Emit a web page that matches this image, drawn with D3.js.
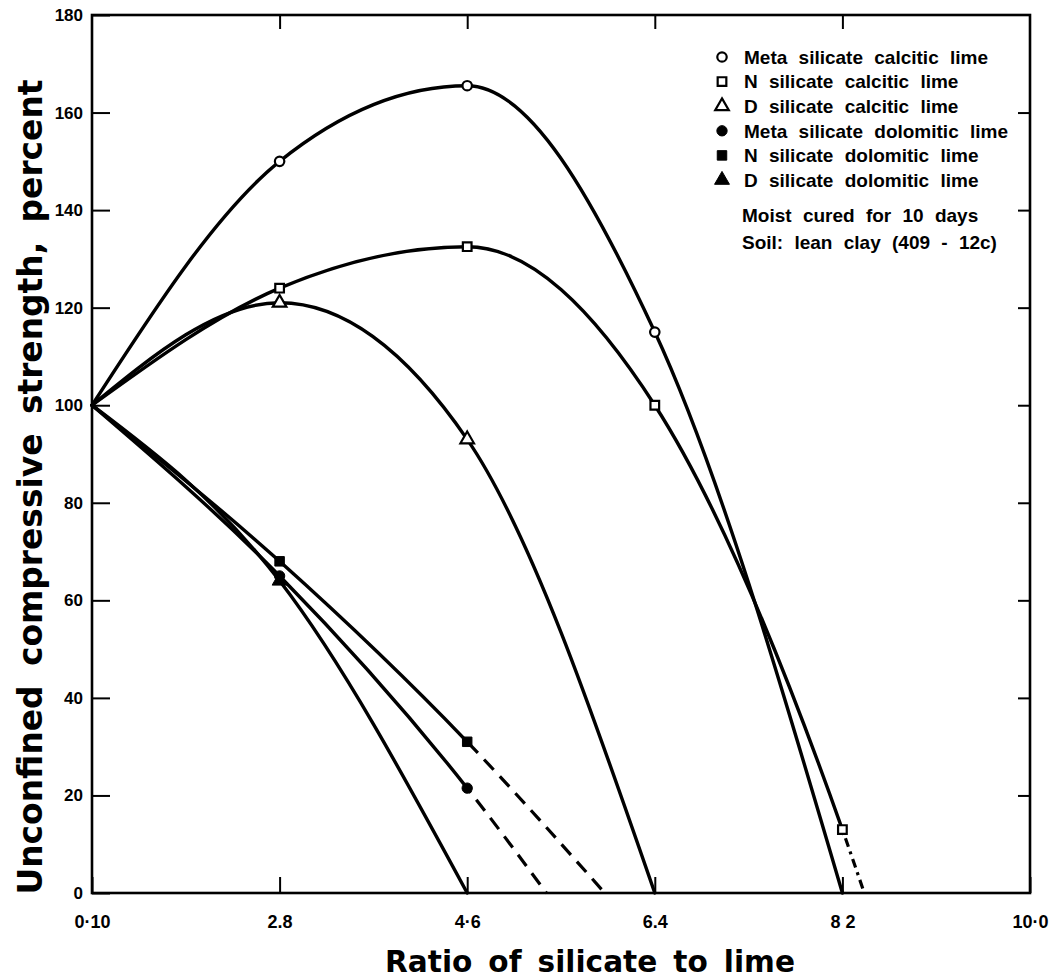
<!DOCTYPE html>
<html>
<head>
<meta charset="utf-8">
<script src="https://cdn.jsdelivr.net/npm/d3@7"></script>
<style>
  body { margin: 0; background: #fff; }
  svg { display: block; }
  text { font-family: "Liberation Sans", Arial, sans-serif; fill: #000; }
</style>
</head>
<body>
<div id="chart"></div>
<script>
// ratio values at the tick marks and the labels printed under them
const ratios = [0.1, 2.8, 4.6, 6.4, 8.2, 10.0];
const ratioLabels = ["0·10", "2.8", "4·6", "6.4", "8 2", "10·0"];
const strengthTicks = [0, 20, 40, 60, 80, 100, 120, 140, 160, 180];

// strength (percent), one array per curve
const metaCalcitic = [[0.1, 100], [2.8, 150], [4.6, 165.5], [6.4, 115], [8.2, 0]];
const nCalcitic = [[0.1, 100], [2.8, 124], [4.6, 132.5], [6.4, 100], [8.2, 13], [8.41, 0]];
const dCalcitic = [[0.1, 100], [2.8, 121], [4.6, 93], [6.4, 0]];
const metaDolomitic = [[0.1, 100], [2.8, 65], [4.6, 21.5], [5.36, 0]];
const nDolomitic = [[0.1, 100], [2.8, 68], [4.6, 31], [5.92, 0]];
const dDolomitic = [[0.1, 100], [2.8, 64], [4.6, 0]];

// name, points, marker symbol, filled?, ratio where the dashed part starts, marker positions
const series = [
  { name: "Meta silicate calcitic lime", pts: metaCalcitic, sym: "circle", fill: false, dashFrom: null, marks: [2.8, 4.6, 6.4] },
  { name: "N silicate calcitic lime", pts: nCalcitic, sym: "square", fill: false, dashFrom: 8.2, marks: [2.8, 4.6, 6.4, 8.2] },
  { name: "D silicate calcitic lime", pts: dCalcitic, sym: "triangle", fill: false, dashFrom: null, marks: [2.8, 4.6] },
  { name: "Meta silicate dolomitic lime", pts: metaDolomitic, sym: "circle", fill: true, dashFrom: 4.6, marks: [2.8, 4.6] },
  { name: "N silicate dolomitic lime", pts: nDolomitic, sym: "square", fill: true, dashFrom: 4.6, marks: [2.8, 4.6] },
  { name: "D silicate dolomitic lime", pts: dDolomitic, sym: "triangle", fill: true, dashFrom: null, marks: [2.8] }
];
const notes = ["Moist cured for 10 days", "Soil:  lean clay (409 - 12c)"];

const width = 1059, height = 980;
const plotLeft = 92, plotRight = 1030, plotTop = 15, plotBottom = 893;

const svg = d3.select("#chart").append("svg")
  .attr("width", width)
  .attr("height", height);

// the printed ratios are evenly spaced, so map them piecewise
const x = d3.scaleLinear()
  .domain(ratios)
  .range(ratios.map((d, i) => plotLeft + i * (plotRight - plotLeft) / (ratios.length - 1)));
const y = d3.scaleLinear().domain([0, 180]).range([plotBottom, plotTop]);

// axes with inward ticks
svg.append("g")
  .attr("transform", `translate(${plotLeft},0)`)
  .call(d3.axisLeft(y).tickValues(strengthTicks).tickSize(-18).tickPadding(9))
  .call(g => g.select(".domain").remove())
  .call(g => g.selectAll("text").style("font-size", "17px").style("font-weight", "bold"));

svg.append("g")
  .attr("transform", `translate(${plotRight},0)`)
  .call(d3.axisRight(y).tickValues(strengthTicks.slice(1, -1)).tickSize(-12).tickFormat(""))
  .call(g => g.select(".domain").remove());

svg.append("g")
  .attr("transform", `translate(0,${plotBottom})`)
  .call(d3.axisBottom(x).tickValues(ratios).tickSize(-16).tickPadding(22)
    .tickFormat((d, i) => ratioLabels[i]))
  .call(g => g.select(".domain").remove())
  .call(g => g.selectAll("text").style("font-size", "18px").style("font-weight", "bold"));

svg.append("g")
  .attr("transform", `translate(0,${plotTop})`)
  .call(d3.axisTop(x).tickValues(ratios.slice(1, -1)).tickSize(-14).tickFormat(""))
  .call(g => g.select(".domain").remove());

svg.selectAll(".tick line").attr("stroke", "#000").attr("stroke-width", 2);

svg.append("rect")
  .attr("x", plotLeft).attr("y", plotTop)
  .attr("width", plotRight - plotLeft).attr("height", plotBottom - plotTop)
  .attr("fill", "none").attr("stroke", "#000").attr("stroke-width", 2.6);

// curves: one smooth path per series, split into solid and dashed parts by clipping
const line = d3.line()
  .x(d => x(d[0]))
  .y(d => y(d[1]))
  .curve(d3.curveMonotoneX);

const defs = svg.append("defs");
series.forEach((s, i) => {
  const split = s.dashFrom == null ? plotRight + 10 : x(s.dashFrom);
  defs.append("clipPath").attr("id", "solid" + i)
    .append("rect").attr("x", 0).attr("y", 0).attr("width", split).attr("height", height);
  defs.append("clipPath").attr("id", "dash" + i)
    .append("rect").attr("x", split).attr("y", 0).attr("width", width).attr("height", height);

  svg.append("path")
    .attr("d", line(s.pts))
    .attr("clip-path", `url(#solid${i})`)
    .attr("fill", "none").attr("stroke", "#000").attr("stroke-width", 3.4)
    .attr("stroke-linejoin", "round").attr("stroke-linecap", "round");

  if (s.dashFrom != null) {
    svg.append("path")
      .attr("d", line(s.pts))
      .attr("clip-path", `url(#dash${i})`)
      .attr("fill", "none").attr("stroke", "#000").attr("stroke-width", 3.2)
      .attr("stroke-dasharray", s.sym === "square" && !s.fill ? "9,5,3,5" : "14,9");
  }
});

const symbols = { circle: d3.symbolCircle, square: d3.symbolSquare, triangle: d3.symbolTriangle };
const symSize = { circle: 70, square: 75, triangle: 80 };

function marker(g, s) {
  g.append("path")
    .attr("d", d3.symbol(symbols[s.sym], s.fill ? symSize[s.sym] * 1.2 : symSize[s.sym])())
    .attr("fill", s.fill ? "#000" : "#fff")
    .attr("stroke", "#000")
    .attr("stroke-width", s.fill ? 1 : 2.2);
}

series.forEach(s => {
  const pts = s.pts.filter(p => s.marks.includes(p[0]));
  pts.forEach(p => {
    const g = svg.append("g").attr("transform", `translate(${x(p[0])},${y(p[1])})`);
    marker(g, s);
  });
});

// legend
const legend = svg.append("g").attr("transform", "translate(722,57)");
series.forEach((s, i) => {
  const row = legend.append("g").attr("transform", `translate(0,${i * 24.6})`);
  marker(row, s);
  row.append("text")
    .attr("x", 22).attr("dy", "0.36em")
    .style("font-size", "19px").style("font-weight", "bold").style("word-spacing", "6px")
    .text(s.name);
});
notes.forEach((t, i) => {
  legend.append("text")
    .attr("x", 20).attr("y", 158 + i * 27).attr("dy", "0.36em")
    .style("font-size", "19px").style("font-weight", "bold").style("word-spacing", "6px")
    .text(t);
});

// axis titles
svg.append("text")
  .attr("transform", "translate(42,487) rotate(-90)")
  .attr("text-anchor", "middle")
  .attr("textLength", 815).attr("lengthAdjust", "spacingAndGlyphs")
  .style("font-family", "'DejaVu Sans', sans-serif")
  .style("font-size", "33px").style("font-weight", "bold")
  .style("word-spacing", "8px")
  .text("Unconfined compressive strength, percent");

svg.append("text")
  .attr("x", 590).attr("y", 972)
  .attr("text-anchor", "middle")
  .attr("textLength", 410).attr("lengthAdjust", "spacingAndGlyphs")
  .style("font-family", "'DejaVu Sans', sans-serif")
  .style("font-size", "31px").style("font-weight", "bold")
  .style("word-spacing", "6px")
  .text("Ratio of silicate to lime");
</script>
</body>
</html>
